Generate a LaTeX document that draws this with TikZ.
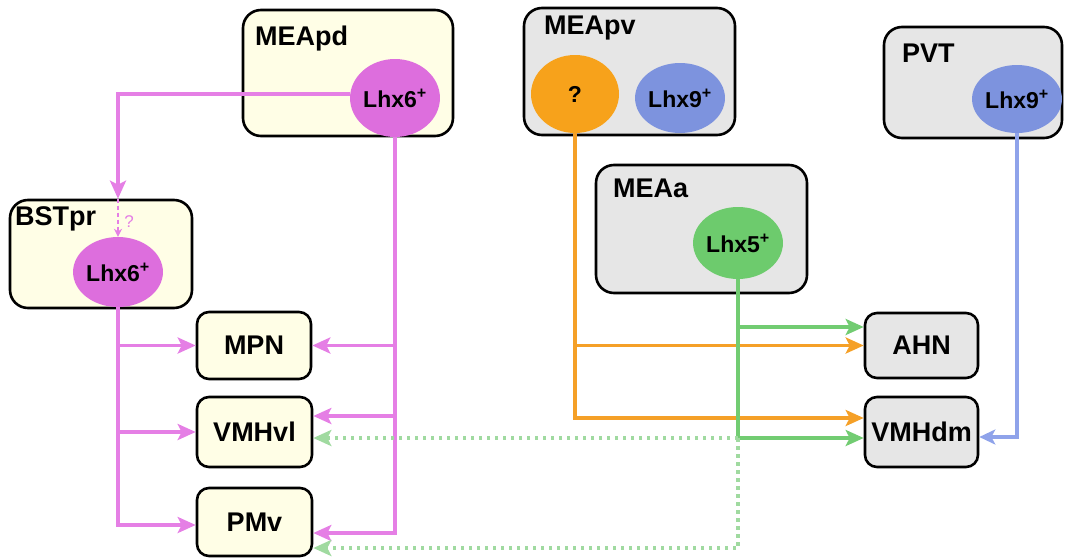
\documentclass[tikz,border=0pt]{standalone}
\usepackage{fontspec}
\setmainfont{Liberation Sans}
\usetikzlibrary{arrows.meta,shapes.geometric}
\definecolor{boxY}{HTML}{FFFEE6}
\definecolor{boxG}{HTML}{E6E6E6}
\definecolor{pinkF}{HTML}{DD6EDD}
\definecolor{pinkL}{HTML}{E57FE5}
\definecolor{orangeF}{HTML}{F7A21B}
\definecolor{orangeL}{HTML}{F5A027}
\definecolor{blueF}{HTML}{7D93DE}
\definecolor{blueL}{HTML}{8FA3EA}
\definecolor{greenF}{HTML}{6DCB6D}
\definecolor{greenL}{HTML}{72CC72}
\definecolor{greenD}{HTML}{A0DAA0}
\newcommand{\lblfont}{\bfseries\fontsize{27}{30}\selectfont}
\newcommand{\cellfont}{\bfseries\fontsize{23}{26}\selectfont}
\begin{document}
\begin{tikzpicture}[x=1pt,y=-1pt,
  box/.style={draw=black, line width=2.6pt, rounded corners=18pt, inner sep=0pt},
  ybox/.style={box, fill=boxY},
  gbox/.style={box, fill=boxG},
  smallbox/.style={rounded corners=12pt, font=\lblfont},
  cell/.style={ellipse, inner sep=0pt, font=\cellfont},
  ttl/.style={anchor=base west, inner sep=0pt, font=\lblfont},
  tip/.style={-{Stealth[length=18pt,width=16pt,inset=4pt]}},
  pk/.style={draw=pinkL, line width=3.6pt},
  og/.style={draw=orangeL, line width=3.6pt},
  gn/.style={draw=greenL, line width=3.6pt},
  gd/.style={draw=greenD, line width=3.6pt, dash pattern=on 3.5pt off 4.5pt},
  bl/.style={draw=blueL, line width=3.2pt}
]
\useasboundingbox (0,0) rectangle (1068,557);

% region boxes
\node[ybox, minimum width=210pt, minimum height=126pt] (meapd) at (348,73) {};
\node[gbox, minimum width=211pt, minimum height=127pt] (meapv) at (629.5,71.5) {};
\node[gbox, minimum width=178pt, minimum height=111pt] (pvt) at (973,82.5) {};
\node[gbox, minimum width=211pt, minimum height=128pt] (meaa) at (701.5,229) {};
\node[ybox, minimum width=182pt, minimum height=108pt] (bst) at (101,254) {};

\node[ttl] (tmeapd) at (255,45) {MEApd};
\node[ttl] (tmeapv) at (544,34) {MEApv};
\node[ttl] (tpvt) at (902,62) {PVT};
\node[ttl] (tmeaa) at (613,197) {MEAa};
\node[ttl] (tbst) at (15,225) {BSTpr};

% target boxes
\node[ybox, smallbox, minimum width=114pt, minimum height=67pt] (mpn) at (254,345.5) {MPN};
\node[ybox, smallbox, minimum width=115pt, minimum height=70pt] (vmhvl) at (254.5,432) {VMHvl};
\node[ybox, smallbox, minimum width=115pt, minimum height=68pt] (pmv) at (254.5,522) {PMv};
\node[gbox, smallbox, minimum width=113pt, minimum height=65pt] (ahn) at (921.5,345.5) {AHN};
\node[gbox, smallbox, minimum width=113pt, minimum height=70pt] (vmhdm) at (921.5,432) {VMHdm};

% cell populations
\node[cell, fill=pinkF, minimum width=84pt, minimum height=78pt] (e1) at (395,98) {Lhx6\textsuperscript{+}};
\node[cell, fill=orangeF, minimum width=88pt, minimum height=78pt] (eo) at (575,94) {?};
\node[cell, fill=blueF, minimum width=80pt, minimum height=70pt] (eb) at (680,98) {Lhx9\textsuperscript{+}};
\node[cell, fill=blueF, minimum width=84pt, minimum height=68pt] (ep) at (1017,99) {Lhx9\textsuperscript{+}};
\node[cell, fill=greenF, minimum width=84pt, minimum height=72pt] (eg) at (738,243) {Lhx5\textsuperscript{+}};
\node[cell, fill=pinkF, minimum width=86pt, minimum height=70pt] (e2) at (118,272) {Lhx6\textsuperscript{+}};

% attachment points
\coordinate (pmvL) at ([yshift=-3pt]pmv.west);
\coordinate (pmvR) at ([yshift=-11pt]pmv.east);
\coordinate (pmvRd) at ([yshift=-26pt]pmv.east);
\coordinate (vmhvlR) at ([yshift=16pt]vmhvl.east);
\coordinate (vmhvlRd) at ([yshift=-6pt]vmhvl.east);
\coordinate (vmhdmLo) at ([yshift=14pt]vmhdm.west);
\coordinate (vmhdmLg) at ([yshift=-6pt]vmhdm.west);
\coordinate (vmhdmR) at ([yshift=-5pt]vmhdm.east);
\coordinate (ahnLg) at ([yshift=18.5pt]ahn.west);
\coordinate (bstin) at (e2 |- bst.north);
\coordinate (gsplit) at (eg.south |- vmhdmLg);

% pink MEApd -> BSTpr
\draw[pk, tip] (e1.175) -| (bstin);
\draw[pk, line width=2.2pt, dash pattern=on 4pt off 3pt, -{Stealth[length=8pt,width=8pt]}] (bstin) -- (e2.north);
\node[text=pinkL, font=\fontsize{17}{17}\selectfont, inner sep=0pt] (q) at (129,222) {?};

% pink BSTpr -> targets
\draw[pk, tip] (e2.south) |- (pmvL);
\draw[pk, tip] (e2 |- mpn.west) -- (mpn.west);
\draw[pk, tip] (e2 |- vmhvl.west) -- (vmhvl.west);

% pink MEApd -> targets
\draw[pk, tip] (e1.south) |- (pmvR);
\draw[pk, tip] (e1 |- mpn.east) -- (mpn.east);
\draw[pk, tip] (e1 |- vmhvlR) -- (vmhvlR);

% orange
\draw[og, tip] (eo.south) |- (vmhdmLo);
\draw[og, tip] (eo |- ahn.west) -- (ahn.west);

% green
\draw[gn, tip] (eg.south) |- (vmhdmLg);
\draw[gn, tip] (eg |- ahnLg) -- (ahnLg);
\draw[gd, tip] (gsplit) -- (vmhvlRd);
\draw[gd, tip] (gsplit) |- (pmvRd);

% blue PVT -> VMHdm
\draw[bl, -{Stealth[length=16pt,width=15pt,inset=4pt]}] (ep.south) |- (vmhdmR);
\end{tikzpicture}
\end{document}
